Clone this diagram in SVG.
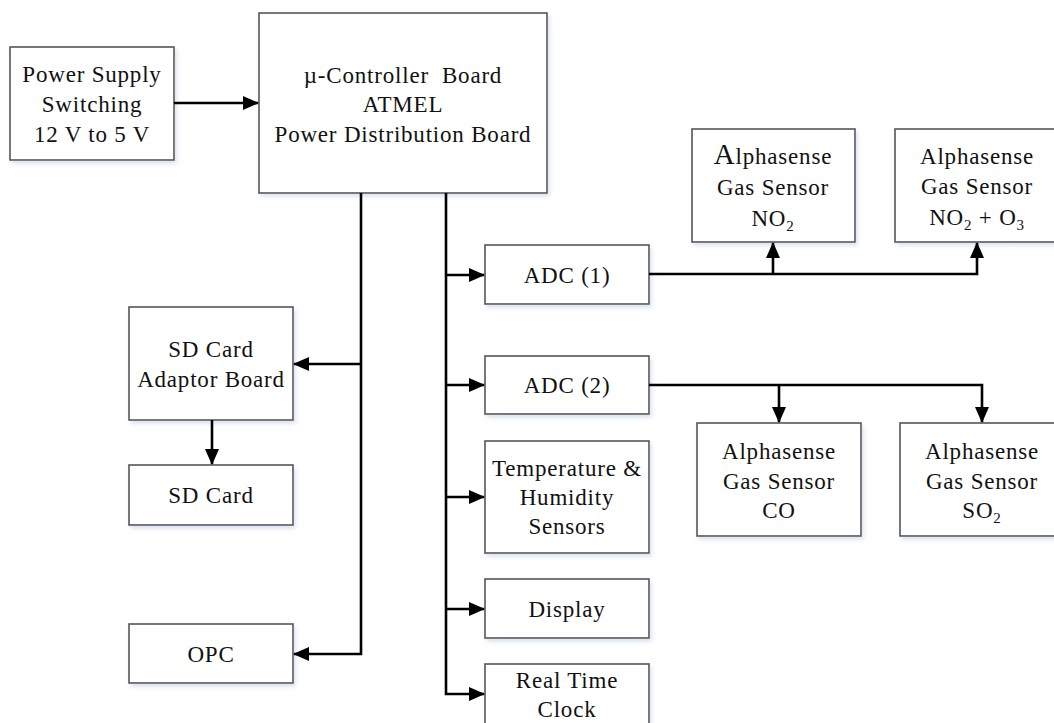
<svg xmlns="http://www.w3.org/2000/svg" width="1054" height="723" viewBox="0 0 1054 723">
<style>
.box{fill:#fff;stroke:#555;stroke-width:1.6;filter:url(#sh)}
.t{font-family:"Liberation Serif","Times New Roman",serif;font-size:23px;letter-spacing:0.8px;fill:#111;text-anchor:middle}
.c{fill:none;stroke:#000;stroke-width:2.6}
.sub{font-size:15px}
</style>
<defs>
<filter id="sh" x="-10%" y="-10%" width="130%" height="130%">
<feDropShadow dx="2" dy="3" stdDeviation="2" flood-color="#c4d2e4" flood-opacity="0.6"/>
</filter>
<marker id="ah" markerUnits="userSpaceOnUse" markerWidth="16" markerHeight="14" refX="15" refY="7" orient="auto">
<path d="M0,0 L16,7 L0,14 Z" fill="#000"/>
</marker>
</defs>

<g id="power">
<rect class="box" x="10" y="47" width="164" height="113"/>
<text class="t" x="92" y="82">Power Supply</text>
<text class="t" x="92" y="112">Switching</text>
<text class="t" x="92" y="142">12 V to 5 V</text>
</g>

<g id="controller">
<rect class="box" x="259" y="13" width="288" height="180"/>
<text class="t" x="403" y="83" xml:space="preserve">µ-Controller  Board</text>
<text class="t" x="403" y="112">ATMEL</text>
<text class="t" x="403" y="142">Power Distribution Board</text>
</g>

<g id="sdadapter">
<rect class="box" x="129" y="307" width="164" height="113"/>
<text class="t" x="211" y="357">SD Card</text>
<text class="t" x="211" y="387">Adaptor Board</text>
</g>

<g id="sdcard">
<rect class="box" x="129" y="465" width="164" height="60"/>
<text class="t" x="211" y="503">SD Card</text>
</g>

<g id="opc">
<rect class="box" x="129" y="624" width="164" height="59"/>
<text class="t" x="211" y="662">OPC</text>
</g>

<g id="adc1">
<rect class="box" x="485" y="245" width="164" height="59"/>
<text class="t" x="567" y="283">ADC (1)</text>
</g>

<g id="adc2">
<rect class="box" x="485" y="356" width="164" height="58"/>
<text class="t" x="567" y="393">ADC (2)</text>
</g>

<g id="temphum">
<rect class="box" x="485" y="441" width="164" height="112"/>
<text class="t" x="567" y="476">Temperature &amp;</text>
<text class="t" x="567" y="505">Humidity</text>
<text class="t" x="567" y="534">Sensors</text>
</g>

<g id="display">
<rect class="box" x="485" y="579" width="164" height="59"/>
<text class="t" x="567" y="617">Display</text>
</g>

<g id="rtc">
<rect class="box" x="485" y="664" width="164" height="70"/>
<text class="t" x="567" y="688">Real Time</text>
<text class="t" x="567" y="717">Clock</text>
</g>

<g id="no2">
<rect class="box" x="692" y="129" width="163" height="113"/>
<text class="t" x="773" y="164"><tspan font-size="29">A</tspan>lphasense</text>
<text class="t" x="773" y="195">Gas Sensor</text>
<text class="t" x="773" y="226">NO<tspan class="sub" dy="5">2</tspan></text>
</g>

<g id="no2o3">
<rect class="box" x="895" y="129" width="166" height="113"/>
<text class="t" x="977" y="164">Alphasense</text>
<text class="t" x="977" y="194">Gas Sensor</text>
<text class="t" x="977" y="225">NO<tspan class="sub" dy="5">2</tspan><tspan dy="-5"> + O</tspan><tspan class="sub" dy="5">3</tspan></text>
</g>

<g id="co">
<rect class="box" x="697" y="423" width="164" height="113"/>
<text class="t" x="779" y="459">Alphasense</text>
<text class="t" x="779" y="489">Gas Sensor</text>
<text class="t" x="779" y="518">CO</text>
</g>

<g id="so2">
<rect class="box" x="900" y="423" width="164" height="113"/>
<text class="t" x="982" y="459">Alphasense</text>
<text class="t" x="982" y="489">Gas Sensor</text>
<text class="t" x="982" y="518">SO<tspan class="sub" dy="5">2</tspan></text>
</g>

<g id="connectors">
<path class="c" d="M174,103 H258" marker-end="url(#ah)"/>
<path class="c" d="M361,193 V654 H294" marker-end="url(#ah)"/>
<path class="c" d="M361,364 H294" marker-end="url(#ah)"/>
<path class="c" d="M212,420 V464" marker-end="url(#ah)"/>
<path class="c" d="M446,193 V694 H484" marker-end="url(#ah)"/>
<path class="c" d="M446,275 H484" marker-end="url(#ah)"/>
<path class="c" d="M446,385 H484" marker-end="url(#ah)"/>
<path class="c" d="M446,497 H484" marker-end="url(#ah)"/>
<path class="c" d="M446,609 H484" marker-end="url(#ah)"/>
<path class="c" d="M649,274 H977 V243" marker-end="url(#ah)"/>
<path class="c" d="M773,274 V243" marker-end="url(#ah)"/>
<path class="c" d="M649,385 H982 V422" marker-end="url(#ah)"/>
<path class="c" d="M779,385 V422" marker-end="url(#ah)"/>
</g>
</svg>
